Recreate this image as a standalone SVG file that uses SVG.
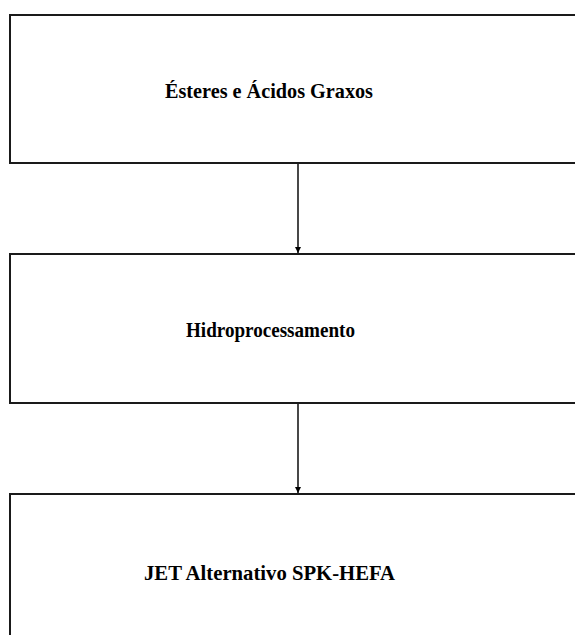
<svg xmlns="http://www.w3.org/2000/svg" width="575" height="635" viewBox="0 0 575 635">
  <style>
    .box { fill: #ffffff; stroke: #1a1a1a; stroke-width: 2; }
    .label { font-family: "Liberation Serif", "Times New Roman", serif; font-weight: bold; font-size: 22px; fill: #000000; }
    .edge { stroke: #1a1a1a; stroke-width: 1.6; fill: none; }
  </style>
  <defs>
    <marker id="arrow" markerWidth="6" markerHeight="6" refX="6" refY="3" orient="auto" markerUnits="userSpaceOnUse">
      <path d="M0,0 L6,3 L0,6 Z" fill="#000000"/>
    </marker>
  </defs>
  <rect width="575" height="635" fill="#ffffff"/>

  <g id="node-esteres">
    <rect class="box" x="10" y="15" width="580" height="148"/>
    <text class="label" x="165" y="98" textLength="208" lengthAdjust="spacingAndGlyphs">Ésteres e Ácidos Graxos</text>
  </g>

  <g id="node-hidroprocessamento">
    <rect class="box" x="10" y="254" width="580" height="149"/>
    <text class="label" x="186" y="337" textLength="169" lengthAdjust="spacingAndGlyphs">Hidroprocessamento</text>
  </g>

  <g id="node-jet">
    <rect class="box" x="10" y="494" width="580" height="160"/>
    <text class="label" x="144" y="580" textLength="251" lengthAdjust="spacingAndGlyphs">JET Alternativo SPK-HEFA</text>
  </g>

  <g id="connectors">
    <line class="edge" x1="298" y1="164" x2="298" y2="253" marker-end="url(#arrow)"/>
    <line class="edge" x1="298" y1="404" x2="298" y2="493" marker-end="url(#arrow)"/>
  </g>
</svg>
